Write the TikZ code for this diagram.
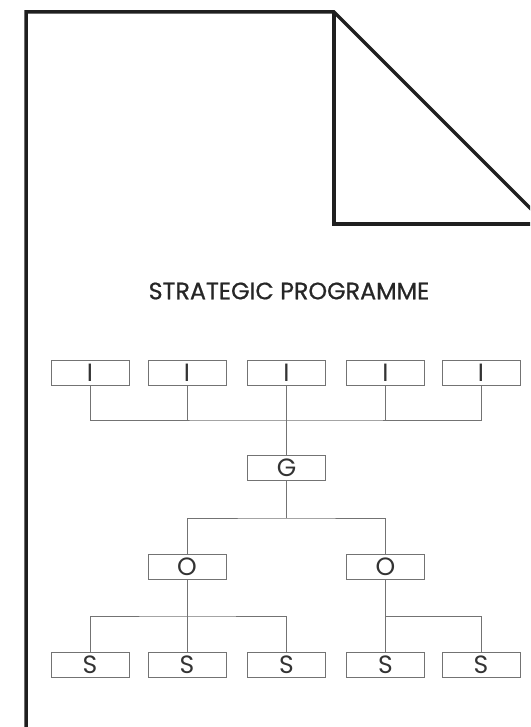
\documentclass[tikz,border=0pt]{standalone}
\usepackage{fontspec}
\setmainfont{Poppins}
\newfontfamily\titlefont{Poppins}[FakeBold=0.7]
\usepackage{tikz}
\usetikzlibrary{positioning}

\begin{document}
\begin{tikzpicture}[
    x=1pt, y=-1pt,
    page/.style={line width=3.5pt, draw=black!88},
    unit/.style={rectangle, draw=black!55, line width=1pt, minimum width=78pt,
                 minimum height=25pt, inner sep=0pt, font=\fontsize{25}{25}\selectfont,
                 text=black!80},
    link/.style={line width=1pt, draw=black!55}
]
\useasboundingbox (0,0) rectangle (530,727);
\clip (0,0) rectangle (530,727);
% folded sheet
\draw[page] (26,740) -- (26,12) -- (334,12) -- (560,238);
\draw[page] (334,12) -- (334,224) -- (560,224);
\node[font=\titlefont\fontsize{23.8}{23.8}\selectfont, text=black!85] (title) at (289,291) {STRATEGIC PROGRAMME};
% boxes
\node[unit] (i1) at (90,373)    {I};
\node[unit] (i2) at (187,373)   {I};
\node[unit] (i3) at (286.5,373) {I};
\node[unit] (i4) at (385.5,373) {I};
\node[unit] (i5) at (481,373)   {I};
\node[unit] (g)  at (286.5,467.5) {G};
\node[unit] (o1) at (187,567)   {O};
\node[unit] (o2) at (385.5,567) {O};
\node[unit] (s1) at (90,665)    {S};
\node[unit] (s2) at (187,665)   {S};
\node[unit] (s3) at (286.5,665) {S};
\node[unit] (s4) at (385.5,665) {S};
\node[unit] (s5) at (481,665)   {S};
\coordinate (ibus)  at (286.5,420);
\coordinate (gbus)  at (286.5,518);
\coordinate (o1bus) at (187,616);
\coordinate (o2bus) at (385.5,616);
% links
\draw[link] (i1.south) |- (ibus) -| (i5.south);
\draw[link] (i2.south) -- (i2.south |- ibus);
\draw[link] (i4.south) -- (i4.south |- ibus);
\draw[link] (i3.south) -- (g.north);
\draw[link] (g.south) -- (gbus);
\draw[link] (o1.north) |- (gbus) -| (o2.north);
\draw[link] (s1.north) |- (o1bus) -| (s3.north);
\draw[link] (o1.south) -- (s2.north);
\draw[link] (o2.south) -- (s4.north);
\draw[link] (o2bus) -| (s5.north);
\end{tikzpicture}
\end{document}
